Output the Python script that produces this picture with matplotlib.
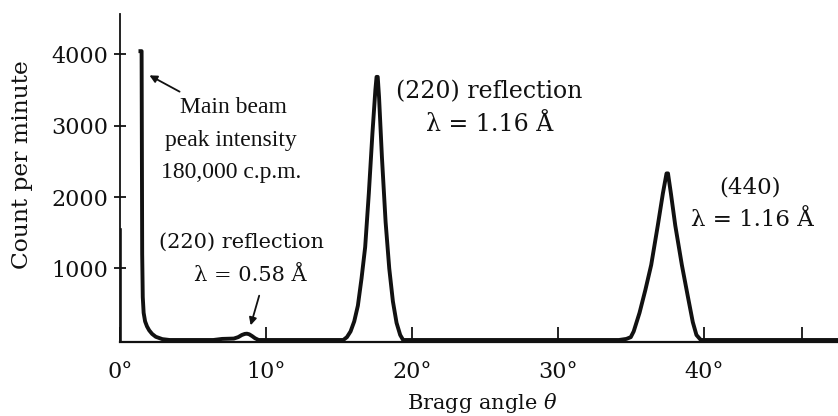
import matplotlib
matplotlib.use('Agg')
import matplotlib.pyplot as plt

plt.rcParams['font.family'] = ['DejaVu Serif']
plt.rcParams['mathtext.fontset'] = 'dejavuserif'

# Scan: Bragg angle (deg) vs counts per minute
angle = [1.40, 1.48, 1.52, 1.56, 1.62, 1.72, 1.85, 2.00, 2.20, 2.45, 2.90, 3.40,
         6.40, 7.00, 7.80, 8.10, 8.35, 8.55, 8.70, 8.85, 9.05, 9.25, 9.50,
         15.30, 15.55, 15.80, 16.05, 16.30, 16.55, 16.80, 17.05, 17.30, 17.50, 17.58,
         17.66, 17.75, 17.95, 18.20, 18.45, 18.70, 18.95, 19.20, 19.40,
         34.20, 34.70, 35.00, 35.20, 35.60, 36.00, 36.40, 36.85, 37.20, 37.45, 37.55,
         37.75, 38.05, 38.50, 38.90, 39.25, 39.50, 39.80, 49.50]
counts = [4040, 4040, 1200, 600, 380, 260, 190, 135, 85, 45, 12, 0,
          0, 15, 20, 40, 70, 85, 88, 80, 55, 25, 0,
          0, 40, 120, 260, 480, 860, 1300, 2050, 2900, 3500, 3680,
          3680, 3400, 2550, 1650, 1000, 540, 240, 70, 0,
          0, 15, 40, 120, 380, 700, 1050, 1600, 2050, 2330, 2330,
          2050, 1600, 1050, 620, 250, 70, 0, 0]

# short trace running up the y axis at 0 deg
edge_angle = [0, 0]
edge_counts = [0, 1540]

y_ticks = [1000, 2000, 3000, 4000]
x_ticks = [0, 10, 20, 30, 40, 46.7]
x_labels = ['0°', '10°', '20°', '30°', '40°', '']

fig = plt.figure(figsize=(8.38, 4.16), dpi=100)
ax = fig.add_axes([0.1432, 0.1779, 0.8568, 0.7885])

ink = '#111111'
ax.plot(angle, counts, color=ink, lw=2.8, solid_joinstyle='round', clip_on=False)
ax.plot(edge_angle, edge_counts, color=ink, lw=2.6)

ax.set_xlim(0, 49.2)
ax.set_ylim(-28, 4560)

for s in ['top', 'right']:
    ax.spines[s].set_visible(False)
ax.spines['left'].set_linewidth(1.3)
ax.spines['bottom'].set_linewidth(1.6)
ax.spines['left'].set_color(ink)
ax.spines['bottom'].set_color(ink)

ax.set_yticks(y_ticks)
ax.set_yticklabels([str(v) for v in y_ticks], fontsize=16, color=ink)
ax.tick_params(axis='y', direction='inout', length=9, width=1.3, pad=4, colors=ink)
ax.set_xticks(x_ticks)
ax.set_xticklabels(x_labels, fontsize=16, color=ink)
ax.tick_params(axis='x', direction='in', length=11, width=1.3, pad=14, colors=ink)

ax.set_ylabel('Count per minute', fontsize=16.8, color=ink, va='center')
ax.yaxis.set_label_coords(-0.1365, 0.54)
ax.set_xlabel(r'Bragg angle $\theta$', fontsize=15, color=ink, va='center')
ax.xaxis.set_label_coords(0.504, -0.186)

# main beam note
beam_font = dict(family='Liberation Serif', fontsize=17, color=ink, ha='center')
ax.text(7.8, 3175, 'Main beam', va='baseline', **beam_font)
ax.text(7.6, 2715, 'peak intensity', va='baseline', **beam_font)
ax.text(7.6, 2265, '180,000 c.p.m.', va='baseline', **beam_font)
ax.annotate('', xy=(1.85, 3720), xytext=(4.25, 3455),
            arrowprops=dict(arrowstyle='-|>', color=ink, lw=1.3, mutation_scale=11))

# (220) at 1.16 A
ax.text(25.3, 3470, '(220) reflection', fontsize=17, color=ink, ha='center', va='center')
ax.text(25.3, 3010, 'λ = 1.16 Å', fontsize=17, color=ink, ha='center', va='center')

# (440)
ax.text(43.2, 2130, '(440)', fontsize=16.5, color=ink, ha='center', va='center')
ax.text(43.3, 1680, 'λ = 1.16 Å', fontsize=16.5, color=ink, ha='center', va='center')

# (220) at 0.58 A
ax.text(8.35, 1370, '(220) reflection', fontsize=15, color=ink, ha='center', va='center')
ax.text(8.9, 900, 'λ = 0.58 Å', fontsize=15, color=ink, ha='center', va='center')
ax.annotate('', xy=(8.9, 168), xytext=(9.59, 657),
            arrowprops=dict(arrowstyle='-|>', color=ink, lw=1.3, mutation_scale=11))

fig.savefig('out.png', dpi=100)
